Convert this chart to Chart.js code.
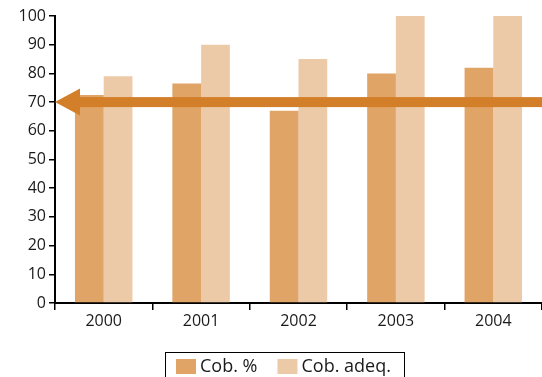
<!DOCTYPE html>
<html>
<head>
<meta charset="utf-8">
<script src="https://cdn.jsdelivr.net/npm/chart.js@4"></script>
<style>
  html, body { margin: 0; padding: 0; background: #fff; }
  #wrap { width: 542px; height: 377px; position: relative; }
</style>
</head>
<body>
<div id="wrap"><canvas id="c"></canvas></div>
<script>
// Years on the category axis
const years = ['2000', '2001', '2002', '2003', '2004'];
// Coverage series (%)
const cobPct = [72.5, 76.5, 67, 80, 82];
const cobAdeq = [79, 90, 85, 100, 100];
// Reference level marked by the arrow
const targetLevel = 70;

const colPct = '#E0A466';
const colAdeq = '#EDCAA7';
const colArrow = '#D37E29';
const fontFamily = '"Open Sans", "DejaVu Sans", sans-serif';

// Horizontal arrow pointing at the reference level on the y axis
const arrowPlugin = {
  id: 'levelArrow',
  afterDatasetsDraw(chart) {
    const { ctx, chartArea } = chart;
    const y = chart.scales.y.getPixelForValue(targetLevel);
    const tipX = chartArea.left;
    const headLen = 25, headHalf = 13.5, shaft = 10;
    ctx.save();
    ctx.fillStyle = colArrow;
    ctx.fillRect(tipX + headLen - 1, y - shaft / 2, chart.width - (tipX + headLen - 1), shaft);
    ctx.beginPath();
    ctx.moveTo(tipX, y);
    ctx.lineTo(tipX + headLen, y - headHalf);
    ctx.lineTo(tipX + headLen, y + headHalf);
    ctx.closePath();
    ctx.fill();
    ctx.restore();
  }
};

// Boxed legend drawn below the axis
const boxLegendPlugin = {
  id: 'boxLegend',
  afterDraw(chart) {
    const { ctx } = chart;
    ctx.save();
    ctx.strokeStyle = '#000';
    ctx.lineWidth = 1;
    ctx.strokeRect(165.5, 352.5, 239, 40);
    ctx.font = '18px ' + fontFamily;
    ctx.textBaseline = 'middle';
    ctx.fillStyle = '#1a1a1a';
    let x = 176;
    const yMid = 366.5;
    chart.data.datasets.forEach((ds, i) => {
      ctx.fillStyle = ds.backgroundColor;
      ctx.fillRect(x, 359, 20, 15);
      ctx.fillStyle = '#1a1a1a';
      ctx.fillText(ds.label, x + 24, yMid);
      x += 24 + ctx.measureText(ds.label).width + 20;
    });
    ctx.restore();
  }
};

new Chart(document.getElementById('c'), {
  type: 'bar',
  data: {
    labels: years,
    datasets: [
      { label: 'Cob. %', data: cobPct, backgroundColor: colPct },
      { label: 'Cob. adeq.', data: cobAdeq, backgroundColor: colAdeq }
    ]
  },
  options: {
    responsive: true,
    maintainAspectRatio: false,
    animation: false,
    layout: { padding: { top: 16, left: 0, right: -2, bottom: 0 } },
    datasets: { bar: { categoryPercentage: 0.59, barPercentage: 1.0 } },
    plugins: {
      legend: { display: false },
      tooltip: { enabled: false }
    },
    scales: {
      x: {
        grid: { display: true, drawOnChartArea: false, drawTicks: true, tickLength: 7, color: '#000', lineWidth: 1.5 },
        border: { color: '#000', width: 2 },
        ticks: { color: '#1a1a1a', font: { size: 16, family: fontFamily }, padding: 2 },
        afterFit(scale) { scale.height = 74; }
      },
      y: {
        min: 0, max: 100,
        grid: { display: true, drawOnChartArea: false, drawTicks: true, tickLength: 6, color: '#000', lineWidth: 1.5 },
        border: { color: '#000', width: 2 },
        ticks: { stepSize: 10, color: '#1a1a1a', font: { size: 16, family: fontFamily }, padding: 3 },
        afterFit(scale) { scale.width = 55; }
      }
    }
  },
  plugins: [arrowPlugin, boxLegendPlugin]
});
</script>
</body>
</html>
